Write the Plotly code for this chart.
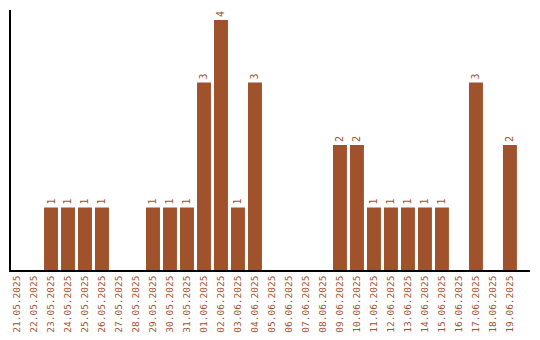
import plotly.graph_objects as go

dates = ["21.05.2025","22.05.2025","23.05.2025","24.05.2025","25.05.2025","26.05.2025",
         "27.05.2025","28.05.2025","29.05.2025","30.05.2025","31.05.2025","01.06.2025",
         "02.06.2025","03.06.2025","04.06.2025","05.06.2025","06.06.2025","07.06.2025",
         "08.06.2025","09.06.2025","10.06.2025","11.06.2025","12.06.2025","13.06.2025",
         "14.06.2025","15.06.2025","16.06.2025","17.06.2025","18.06.2025","19.06.2025"]
counts = [0,0,1,1,1,1,0,0,1,1,1,3,4,1,3,0,0,0,0,2,2,1,1,1,1,1,0,3,0,2]

color = "#A0522D"
labels = [str(v) if v > 0 else "" for v in counts]
font_family = "DejaVu Sans Mono"

fig = go.Figure(go.Bar(
    x=dates, y=counts, marker_color=color, marker_line_width=0,
    text=labels, textposition="outside", textangle=-90,
    textfont=dict(family=font_family, size=10, color=color),
    cliponaxis=False,
))
fig.update_layout(
    width=540, height=340,
    margin=dict(l=11, r=10, t=10, b=70, autoexpand=False),
    paper_bgcolor="white", plot_bgcolor="white",
    bargap=0.18, showlegend=False,
    xaxis=dict(type="category", range=[-0.353, 30.18], tickangle=-90,
               tickfont=dict(family=font_family, size=9.5, color=color),
               showline=True, linecolor="black", linewidth=1.5,
               showgrid=False, ticks="", zeroline=False, automargin=False),
    yaxis=dict(range=[0, 4.16], showline=True, linecolor="black", linewidth=2,
               showgrid=False, showticklabels=False, ticks="", zeroline=False,
               automargin=False),
)
fig.write_html("out.html")
